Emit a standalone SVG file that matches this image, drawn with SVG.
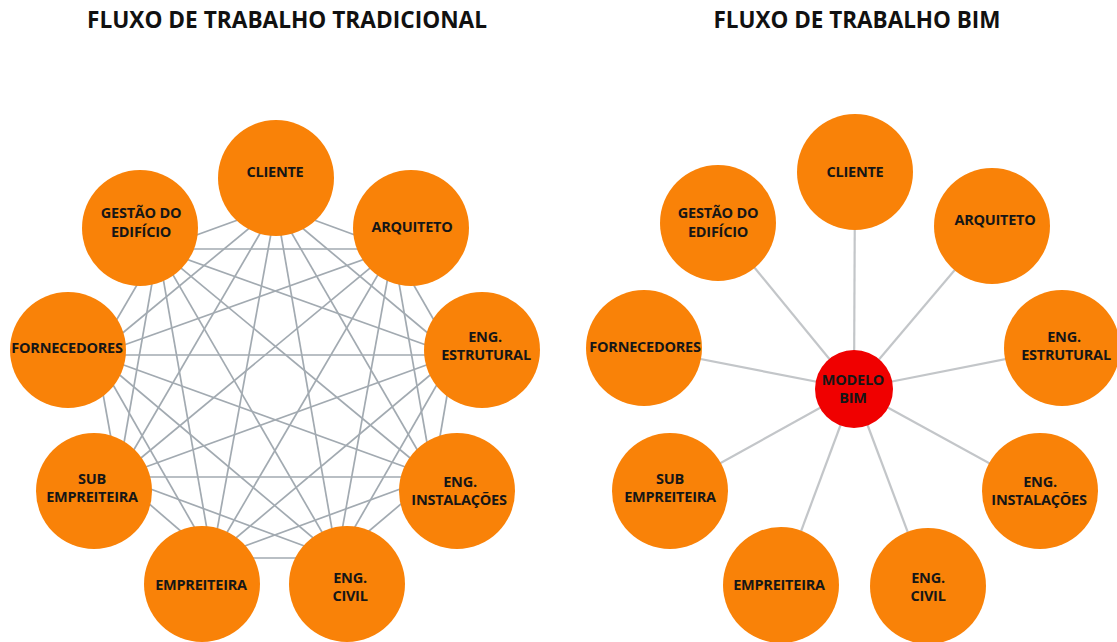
<svg xmlns="http://www.w3.org/2000/svg" width="1117" height="642" viewBox="0 0 1117 642">
  <style>
    .title { font-family: "Open Sans", "Liberation Sans", sans-serif; font-weight: 700; font-size: 24px; fill: #111; text-anchor: middle; }
    .node circle { fill: #F98208; }
    .node.hub circle { fill: #F00000; }
    .node text { font-family: "Open Sans", "Liberation Sans", sans-serif; font-weight: 700; font-size: 14.5px; fill: #161616; text-anchor: middle; letter-spacing: -0.25px; }
    .mesh line { stroke: #a2aab1; stroke-width: 1.7; }
    .spokes line { stroke: #c3c6c9; stroke-width: 2.2; }
  </style>
  <rect width="1117" height="642" fill="#ffffff"/>

  <!-- headings -->
  <text class="title" x="287" y="28" textLength="400" lengthAdjust="spacingAndGlyphs">FLUXO DE TRABALHO TRADICIONAL</text>
  <text class="title" x="857" y="28" textLength="287" lengthAdjust="spacingAndGlyphs">FLUXO DE TRABALHO BIM</text>

  <!-- traditional workflow: every party linked to every other party -->
  <g id="connectors-traditional" class="mesh">
    <line x1="276" y1="206" x2="393" y2="249"/>
    <line x1="276" y1="206" x2="454" y2="355"/>
    <line x1="276" y1="206" x2="433" y2="477"/>
    <line x1="276" y1="206" x2="337" y2="558"/>
    <line x1="276" y1="206" x2="212" y2="558"/>
    <line x1="276" y1="206" x2="118" y2="477"/>
    <line x1="276" y1="206" x2="96" y2="355"/>
    <line x1="276" y1="206" x2="158" y2="249"/>
    <line x1="393" y1="249" x2="454" y2="355"/>
    <line x1="393" y1="249" x2="433" y2="477"/>
    <line x1="393" y1="249" x2="337" y2="558"/>
    <line x1="393" y1="249" x2="212" y2="558"/>
    <line x1="393" y1="249" x2="118" y2="477"/>
    <line x1="393" y1="249" x2="96" y2="355"/>
    <line x1="393" y1="249" x2="158" y2="249"/>
    <line x1="454" y1="355" x2="433" y2="477"/>
    <line x1="454" y1="355" x2="337" y2="558"/>
    <line x1="454" y1="355" x2="212" y2="558"/>
    <line x1="454" y1="355" x2="118" y2="477"/>
    <line x1="454" y1="355" x2="96" y2="355"/>
    <line x1="454" y1="355" x2="158" y2="249"/>
    <line x1="433" y1="477" x2="337" y2="558"/>
    <line x1="433" y1="477" x2="212" y2="558"/>
    <line x1="433" y1="477" x2="118" y2="477"/>
    <line x1="433" y1="477" x2="96" y2="355"/>
    <line x1="433" y1="477" x2="158" y2="249"/>
    <line x1="337" y1="558" x2="212" y2="558"/>
    <line x1="337" y1="558" x2="118" y2="477"/>
    <line x1="337" y1="558" x2="96" y2="355"/>
    <line x1="337" y1="558" x2="158" y2="249"/>
    <line x1="212" y1="558" x2="118" y2="477"/>
    <line x1="212" y1="558" x2="96" y2="355"/>
    <line x1="212" y1="558" x2="158" y2="249"/>
    <line x1="118" y1="477" x2="96" y2="355"/>
    <line x1="118" y1="477" x2="158" y2="249"/>
    <line x1="96" y1="355" x2="158" y2="249"/>
  </g>

  <!-- BIM workflow: every party linked only to the shared model -->
  <g id="connectors-bim" class="spokes">
    <line x1="854" y1="389" x2="855" y2="172"/>
    <line x1="854" y1="389" x2="992" y2="226"/>
    <line x1="854" y1="389" x2="1062" y2="348"/>
    <line x1="854" y1="389" x2="1040" y2="491"/>
    <line x1="854" y1="389" x2="928" y2="586"/>
    <line x1="854" y1="389" x2="781" y2="585"/>
    <line x1="854" y1="389" x2="670" y2="491"/>
    <line x1="854" y1="389" x2="644" y2="348"/>
    <line x1="854" y1="389" x2="718" y2="223"/>
  </g>

  <!-- traditional workflow nodes -->
  <g id="t-cliente" class="node">
    <circle cx="276" cy="178" r="58"/>
    <text x="275" y="177">CLIENTE</text>
  </g>
  <g id="t-arquiteto" class="node">
    <circle cx="411" cy="228" r="58"/>
    <text x="412" y="232">ARQUITETO</text>
  </g>
  <g id="t-eng-estrutural" class="node">
    <circle cx="482" cy="350" r="58"/>
    <text x="485" y="342">ENG.</text>
    <text x="486" y="360">ESTRUTURAL</text>
  </g>
  <g id="t-eng-instalacoes" class="node">
    <circle cx="457" cy="491" r="58"/>
    <text x="460" y="487">ENG.</text>
    <text x="459" y="505">INSTALAÇÕES</text>
  </g>
  <g id="t-eng-civil" class="node">
    <circle cx="347" cy="584" r="58"/>
    <text x="350" y="583">ENG.</text>
    <text x="350" y="601">CIVIL</text>
  </g>
  <g id="t-empreiteira" class="node">
    <circle cx="202" cy="584" r="58"/>
    <text x="201" y="590">EMPREITEIRA</text>
  </g>
  <g id="t-sub-empreiteira" class="node">
    <circle cx="94" cy="491" r="58"/>
    <text x="92" y="484">SUB</text>
    <text x="92" y="502">EMPREITEIRA</text>
  </g>
  <g id="t-fornecedores" class="node">
    <circle cx="68" cy="350" r="58"/>
    <text x="67" y="353">FORNECEDORES</text>
  </g>
  <g id="t-gestao" class="node">
    <circle cx="140" cy="228" r="58"/>
    <text x="141" y="218">GESTÃO DO</text>
    <text x="141" y="237">EDIFÍCIO</text>
  </g>

  <!-- BIM workflow nodes -->
  <g id="b-cliente" class="node">
    <circle cx="855" cy="172" r="58"/>
    <text x="855" y="177">CLIENTE</text>
  </g>
  <g id="b-arquiteto" class="node">
    <circle cx="992" cy="226" r="58"/>
    <text x="995" y="225">ARQUITETO</text>
  </g>
  <g id="b-eng-estrutural" class="node">
    <circle cx="1062" cy="348" r="58"/>
    <text x="1064" y="342">ENG.</text>
    <text x="1066" y="360">ESTRUTURAL</text>
  </g>
  <g id="b-eng-instalacoes" class="node">
    <circle cx="1040" cy="491" r="58"/>
    <text x="1040" y="487">ENG.</text>
    <text x="1039" y="505">INSTALAÇÕES</text>
  </g>
  <g id="b-eng-civil" class="node">
    <circle cx="928" cy="586" r="58"/>
    <text x="928" y="583">ENG.</text>
    <text x="928" y="601">CIVIL</text>
  </g>
  <g id="b-empreiteira" class="node">
    <circle cx="781" cy="585" r="58"/>
    <text x="779" y="590">EMPREITEIRA</text>
  </g>
  <g id="b-sub-empreiteira" class="node">
    <circle cx="670" cy="491" r="58"/>
    <text x="670" y="484">SUB</text>
    <text x="670" y="502">EMPREITEIRA</text>
  </g>
  <g id="b-fornecedores" class="node">
    <circle cx="644" cy="348" r="58"/>
    <text x="645" y="352">FORNECEDORES</text>
  </g>
  <g id="b-gestao" class="node">
    <circle cx="718" cy="223" r="58"/>
    <text x="718" y="218">GESTÃO DO</text>
    <text x="718" y="237">EDIFÍCIO</text>
  </g>
  <g id="b-modelo-bim" class="node hub">
    <circle cx="854" cy="389" r="39"/>
    <text x="853" y="385">MODELO</text>
    <text x="853" y="403">BIM</text>
  </g>
</svg>
